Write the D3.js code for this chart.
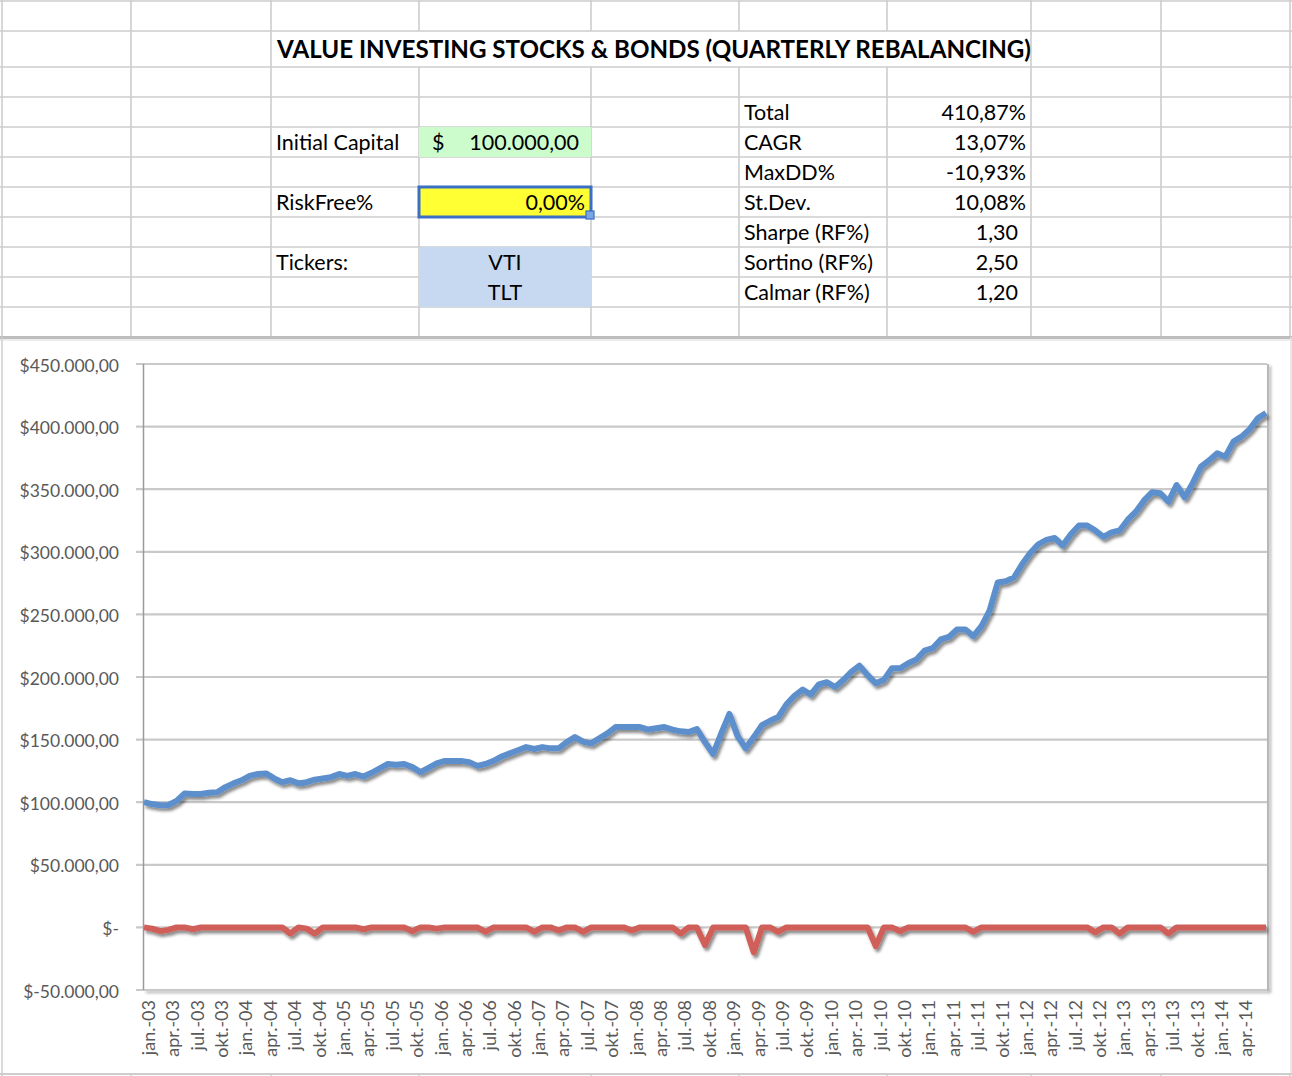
<!DOCTYPE html>
<html><head><meta charset="utf-8">
<script src="https://cdn.jsdelivr.net/npm/d3@7/dist/d3.min.js"></script>
<style>
html,body{margin:0;padding:0;background:#fff;}
svg{display:block;}
text{font-family:Lato,"Open Sans",sans-serif;}
</style></head><body>
<svg id="c" width="1292" height="1076"></svg>
<script>
// ---------------- DATA ----------------
const title = "VALUE INVESTING STOCKS & BONDS (QUARTERLY REBALANCING)";
const inputLabels = ["Initial Capital", "RiskFree%", "Tickers:"];
const initialCapital = "100.000,00";
const riskFree = "0,00%";
const tickers = ["VTI", "TLT"];
const statLabels = ["Total", "CAGR", "MaxDD%", "St.Dev.", "Sharpe (RF%)", "Sortino (RF%)", "Calmar (RF%)"];
const statValues = ["410,87%", "13,07%", "-10,93%", "10,08%", "1,30", "2,50", "1,20"];

// monthly categories Jan 2003 .. Jul 2014
const months = d3.timeMonth.range(new Date(2003, 0, 1), new Date(2014, 7, 1));

// portfolio value (thousand $)
const equity = [
 100,98.5,97.5,97.8,101,107,106.5,106.5,107.5,108,112,115,
 117.5,121,122.5,123,119,116,117.5,115,116,118,119,120,
 122.5,121,122.5,120.5,123.5,127,130.5,130,130.5,128,124,127.5,
 131,133,133,133,132,129,130.5,133,136.5,139,141.5,144,
 142.5,144,143,143,148,152,148.4,147,151,155,160,160,
 160,160,158,159,160,158,156.6,156,158.5,148,138.5,155,
 170.5,153,143,152,161.5,165,168,178,185,190,186,194,
 195.8,192,197.5,204,209,201.5,195,197.7,207,207,211,214,
 221,223,230,232,238,238,232.7,240.5,253,275.5,276.5,279.5,
 290,299,306,309.5,311,305,314,321,321,317,312,315.5,
 317,325.6,332,341,347.6,346.8,340,353.3,343.4,355,368,373,
 378.7,376,388,392,398,406.6,410.9
];
// drawdown (thousand $)
const drawdown = [
 0,-1,-3,-2,0,0,-1.5,0,0,0,0,0,
 0,0,0,0,0,0,-5,0,-1,-5,0,0,
 0,0,0,-1.5,0,0,0,0,0,-3,0,0,
 -1,0,0,0,0,0,-3.5,0,0,0,0,0,
 -3.5,0,0,-2.5,0,0,-3.5,0,0,0,0,0,
 -2.5,0,0,0,0,0,-5,0,0,-14,0,0,
 0,0,0,-20,0,0,-3.5,0,0,0,0,0,
 0,0,0,0,0,0,-15,0,0,-3,0,0,
 0,0,0,0,0,0,-3.5,0,0,0,0,0,
 0,0,0,0,0,0,0,0,0,-4,0,0,
 -5,0,0,0,0,0,-5,0,0,0,0,0,
 0,0,0,0,0,0,0
];
const xTickLabels = [
 "jan.-03","apr.-03","jul.-03","okt.-03","jan.-04","apr.-04","jul.-04","okt.-04",
 "jan.-05","apr.-05","jul.-05","okt.-05","jan.-06","apr.-06","jul.-06","okt.-06",
 "jan.-07","apr.-07","jul.-07","okt.-07","jan.-08","apr.-08","jul.-08","okt.-08",
 "jan.-09","apr.-09","jul.-09","okt.-09","jan.-10","apr.-10","jul.-10","okt.-10",
 "jan.-11","apr.-11","jul.-11","okt.-11","jan.-12","apr.-12","jul.-12","okt.-12",
 "jan.-13","apr.-13","jul.-13","okt.-13","jan.-14","apr.-14"
];
const yTickValues = [-50000,0,50000,100000,150000,200000,250000,300000,350000,400000,450000];
const yTickLabels = ["$-50.000,00","$-","$50.000,00","$100.000,00","$150.000,00","$200.000,00",
 "$250.000,00","$300.000,00","$350.000,00","$400.000,00","$450.000,00"];

// ---------------- DRAW ----------------
const svg = d3.select("#c");
const defs = svg.append("defs");
const sh = defs.append("filter").attr("id","sh").attr("x","-5%").attr("y","-20%").attr("width","110%").attr("height","160%");
sh.append("feDropShadow").attr("dx",2).attr("dy",3).attr("stdDeviation",1.6)
  .attr("flood-color","#000").attr("flood-opacity",0.45);
const sh2 = defs.append("filter").attr("id","sh2").attr("x","-10%").attr("y","-10%").attr("width","130%").attr("height","130%");
sh2.append("feDropShadow").attr("dx",2).attr("dy",2).attr("stdDeviation",1.5)
  .attr("flood-color","#000").attr("flood-opacity",0.35);

// spreadsheet grid
const cols = [2,131,271,419,591,739,887,1031,1161,1290];
const rows = [1,31,67,97,127,157,187,217,247,277,307,337];
const grid = svg.append("g").attr("stroke","#cdcdcd").attr("stroke-width",1.6);
rows.forEach(y => grid.append("line").attr("x1",0).attr("x2",1292).attr("y1",y).attr("y2",y));
cols.forEach(x => {
  if (x > 271 && x < 1031) {
    grid.append("line").attr("x1",x).attr("x2",x).attr("y1",0).attr("y2",31);
    grid.append("line").attr("x1",x).attr("x2",x).attr("y1",67).attr("y2",337);
  } else {
    grid.append("line").attr("x1",x).attr("x2",x).attr("y1",0).attr("y2",337);
  }
});

// filled cells
svg.append("rect").attr("x",419).attr("y",127).attr("width",172).attr("height",30).attr("fill","#ccfccc");
svg.append("rect").attr("x",419).attr("y",247).attr("width",172).attr("height",60).attr("fill","#c6d9f1");
svg.append("rect").attr("x",419).attr("y",187).attr("width",172).attr("height",30).attr("fill","#ffff33")
  .attr("stroke","#3a6fc4").attr("stroke-width",3);
svg.append("rect").attr("x",586).attr("y",211).attr("width",8).attr("height",8)
  .attr("fill","#7aa6e6").attr("stroke","#3a6fc4").attr("stroke-width",1.2);

// title
svg.append("text").attr("x",277).attr("y",58).attr("font-size",24.5).attr("font-weight",700)
  .attr("fill","#000").attr("textLength",754).attr("lengthAdjust","spacingAndGlyphs").text(title);

const cellFont = 21.5;
const rowMid = r => (rows[r] + rows[r+1]) / 2;
// left inputs
[[4,0],[6,1],[8,2]].forEach(([r,i]) => {
  svg.append("text").attr("x",276).attr("y",rowMid(r)).attr("dy","0.36em")
    .attr("font-size",cellFont).attr("fill","#000").text(inputLabels[i]);
});
svg.append("text").attr("x",432).attr("y",rowMid(4)).attr("dy","0.36em").attr("font-size",cellFont).text("$");
svg.append("text").attr("x",579).attr("y",rowMid(4)).attr("dy","0.36em").attr("font-size",cellFont)
  .attr("text-anchor","end").text(initialCapital);
svg.append("text").attr("x",585).attr("y",rowMid(6)).attr("dy","0.36em").attr("font-size",cellFont)
  .attr("text-anchor","end").text(riskFree);
tickers.forEach((t,i) => {
  svg.append("text").attr("x",505).attr("y",rowMid(8+i)).attr("dy","0.36em").attr("font-size",cellFont)
    .attr("text-anchor","middle").text(t);
});
// stats
statLabels.forEach((s,i) => {
  svg.append("text").attr("x",744).attr("y",rowMid(3+i)).attr("dy","0.36em").attr("font-size",cellFont).text(s);
  svg.append("text").attr("x", i < 4 ? 1026 : 1018).attr("y",rowMid(3+i)).attr("dy","0.36em")
    .attr("font-size",cellFont).attr("text-anchor","end").text(statValues[i]);
});

// chart area
const chart = svg.append("g");
chart.append("rect").attr("x",1).attr("y",337).attr("width",1290).attr("height",736).attr("fill","#fff");
chart.append("line").attr("x1",0).attr("x2",1292).attr("y1",337.5).attr("y2",337.5)
  .attr("stroke","#bdbdbd").attr("stroke-width",3);
chart.append("line").attr("x1",0).attr("x2",1292).attr("y1",340).attr("y2",340)
  .attr("stroke","#ececec").attr("stroke-width",2);
chart.append("line").attr("x1",2).attr("x2",2).attr("y1",337).attr("y2",1073)
  .attr("stroke","#cfcfcf").attr("stroke-width",1.5);
chart.append("line").attr("x1",1291).attr("x2",1291).attr("y1",337).attr("y2",1073)
  .attr("stroke","#e2e2e2").attr("stroke-width",1.5);
chart.append("line").attr("x1",0).attr("x2",1292).attr("y1",1074).attr("y2",1074)
  .attr("stroke","#cdcdcd").attr("stroke-width",2);
cols.forEach(x => chart.append("line").attr("x1",x).attr("x2",x).attr("y1",1074).attr("y2",1076)
  .attr("stroke","#cdcdcd").attr("stroke-width",1.6));

const x0 = 144, x1 = 1266, yTop = 364, yBot = 990;
const x = d3.scalePoint().domain(months.map((d,i)=>i)).range([x0, x1]);
const y = d3.scaleLinear().domain([-50000, 450000]).range([yBot, yTop]);

// plot area shadow border
chart.append("path")
  .attr("d", `M${x0},${yBot}H1268V${yTop}`)
  .attr("fill","none").attr("stroke","#b8b8b8").attr("stroke-width",2).attr("filter","url(#sh2)");

// gridlines
const yAxis = d3.axisLeft(y).tickValues(yTickValues)
  .tickFormat((d,i) => yTickLabels[i]).tickSize(0).tickPadding(0);
chart.append("g").attr("class","grid")
  .selectAll("line").data(yTickValues).join("line")
  .attr("x1",136).attr("x2",1267).attr("y1",d=>y(d)).attr("y2",d=>y(d))
  .attr("stroke","#c9c9c9").attr("stroke-width",2.2);

const ya = chart.append("g").attr("transform",`translate(119,0)`).call(yAxis);
ya.select(".domain").remove();
ya.selectAll("text").attr("font-size",17.5).attr("fill","#595959").attr("font-family","Lato, sans-serif")
  .attr("dy","0.4em");

// y axis line
chart.append("line").attr("x1",x0-0.5).attr("x2",x0-0.5).attr("y1",yTop).attr("y2",yBot)
  .attr("stroke","#9a9a9a").attr("stroke-width",1.5);

// x axis labels
const tickIdx = xTickLabels.map((d,i) => i*3);
const xAxis = d3.axisBottom(x).tickValues(tickIdx).tickFormat((d,i) => xTickLabels[i]).tickSize(0).tickPadding(0);
const xa = chart.append("g").attr("transform",`translate(0,${yBot})`).call(xAxis);
xa.select(".domain").remove();
xa.selectAll("text")
  .attr("font-size",18).attr("fill","#595959").attr("font-family","Lato, sans-serif")
  .attr("text-anchor","end").attr("transform","translate(4,10) rotate(-90)")
  .attr("x",0).attr("y",0).attr("dy","0.35em");

// lines
const line = d3.line().x((d,i)=>x(i)).y(d=>y(d*1000));
chart.append("path").datum(drawdown).attr("d",line).attr("fill","none")
  .attr("stroke","#cf5f58").attr("stroke-width",6).attr("stroke-linejoin","round").attr("filter","url(#sh)");
chart.append("path").datum(equity).attr("d",line).attr("fill","none")
  .attr("stroke","#5b8fcb").attr("stroke-width",6).attr("stroke-linejoin","round").attr("filter","url(#sh)");
</script>
</body></html>
